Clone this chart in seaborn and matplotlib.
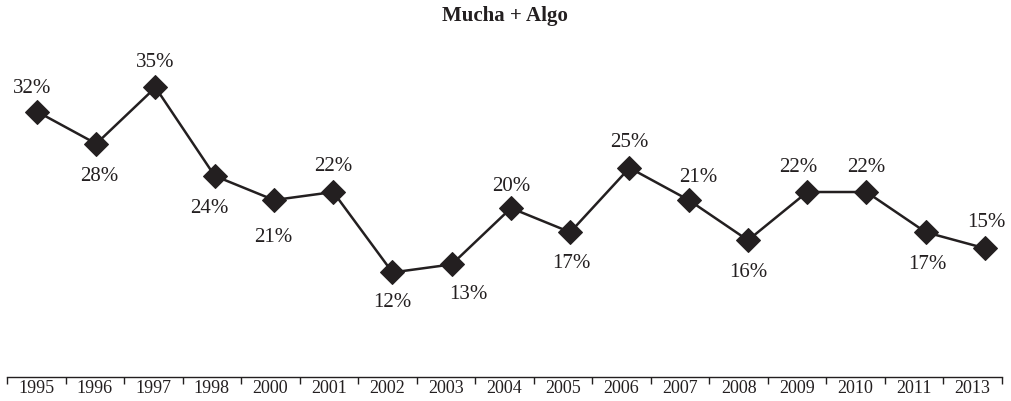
import matplotlib
matplotlib.use("Agg")
import matplotlib.pyplot as plt
import seaborn as sns
import pandas as pd

years = ["1995", "1996", "1997", "1998", "2000", "2001", "2002", "2003", "2004",
         "2005", "2006", "2007", "2008", "2009", "2010", "2011", "2013"]
values = [32, 28, 35, 24, 21, 22, 12, 13, 20, 17, 25, 21, 16, 22, 22, 17, 15]

# value-label nudges in pixels (dx, dy; dy > 0 puts the label above the marker)
label_nudge_px = [(-4.5, 25.5), (3.5, -30.5), (0, 27), (-5.5, -30.5), (-1, -34.5),
                  (0, 28.5), (0, -27.5), (17, -27.5), (0, 24), (1.5, -28.5),
                  (0, 28), (10, 25.5), (0, -29.5), (-9, 27.5), (0, 27.5),
                  (1.5, -29.5), (1, 28)]

sns.set_theme(style="white")
plt.rcParams["font.family"] = ["Liberation Serif", "DejaVu Serif"]

ink = "#231f20"
df = pd.DataFrame({"pos": range(len(years)), "value": values})

fig = plt.figure(figsize=(10.12, 4.01), dpi=100)
ax = fig.add_axes([7 / 1012, 24 / 401, 995 / 1012, 337 / 401])

# category axis along the bottom
ax.set_xlim(-0.5, len(years) - 0.5)
ax.set_ylim(-1, 40.9)
ax.set_yticks([])
ax.set_xticks(range(len(years)))
ax.set_xticklabels(years, fontsize=13, color=ink)
ax.set_xticks([i - 0.5 for i in range(len(years) + 1)], minor=True)
ax.tick_params(axis="x", which="major", length=0, pad=2)
ax.tick_params(axis="x", which="minor", length=5, width=1, color=ink,
               direction="out", bottom=True)
for s in ["top", "left", "right"]:
    ax.spines[s].set_visible(False)
ax.spines["bottom"].set_color(ink)
ax.spines["bottom"].set_linewidth(1)

# series layer, spread slightly wider than the category slots
lax = ax.twiny()
sns.lineplot(data=df, x="pos", y="value", ax=lax, color=ink, linewidth=1.8,
             marker="D", markersize=12.5, markeredgecolor=ink,
             markerfacecolor=ink, legend=False)
lax.set_xlim(-0.506, 16.287)
lax.set_ylim(-1, 40.9)
lax.set_xticks([])
lax.set_xlabel("")
lax.set_ylabel("")
ax.set_xlabel("")
ax.set_ylabel("")
for s in lax.spines.values():
    s.set_visible(False)

for i, (v, (dx, dy)) in enumerate(zip(values, label_nudge_px)):
    # va="center" sits ~2.5 px above the glyphs' visual middle
    lax.annotate(f"{v}%", (i, v), xytext=(dx * 0.72, (dy - 2.5) * 0.72),
                 textcoords="offset points", ha="center", va="center",
                 fontsize=15, color=ink)

fig.text(505 / 1012, 1 - 16 / 401, "Mucha + Algo", ha="center", va="center",
         fontsize=15, fontweight="bold", color=ink)

fig.savefig("out.png", dpi=100)
